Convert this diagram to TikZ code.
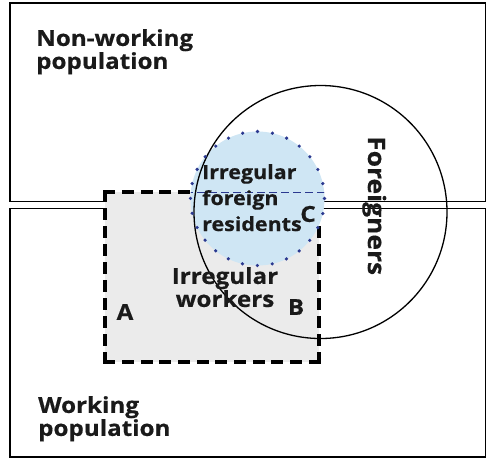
\documentclass[tikz,border=0pt]{standalone}
\usepackage{fontspec}
\setmainfont{Open Sans}[FakeStretch=1.1, BoldFeatures={FakeBold=0.5}]
\definecolor{grayfill}{HTML}{EBEBEB}
\definecolor{bluefill}{HTML}{CFE6F4}
\definecolor{navy}{HTML}{2B3990}
\definecolor{ink}{HTML}{1A1A1A}
\begin{document}
\begin{tikzpicture}[x=1pt,y=1pt,
  boxline/.style={draw=black, line width=1.6pt},
  bigl/.style={inner sep=0pt, font=\bfseries\fontsize{22}{21}\selectfont, text=ink},
  midl/.style={inner sep=0pt, font=\bfseries\fontsize{19.5}{26}\selectfont, text=ink},
  wkl/.style={inner sep=0pt, font=\bfseries\fontsize{22}{23}\selectfont, text=ink},
  forl/.style={inner sep=0pt, font=\bfseries\fontsize{24}{24}\selectfont, text=ink},
  letter/.style={inner sep=0pt, font=\bfseries\fontsize{22}{22}\selectfont, text=ink},
  hdash/.style={draw=black, line width=3.2pt, line cap=rect, dash pattern=on 8.8pt off 9.85pt},
  vdash/.style={draw=black, line width=3.2pt, line cap=rect, dash pattern=on 8.8pt off 9.11pt},
  bluedash/.style={draw=navy, line width=1pt, dash pattern=on 8pt off 4pt},
  dotted border/.style={draw=navy, line width=3.6pt, line cap=round, dash pattern=on 0pt off 15.03pt}
]
\useasboundingbox (0,0) rectangle (487,-459);
% population boxes
\path[boxline] (10,-3) rectangle (485.5,-201.5);
\path[boxline] (10,-208.5) rectangle (485.5,-457);
% irregular workers rectangle
\coordinate (tl) at (105,-192);
\coordinate (tr) at (319,-192);
\coordinate (br) at (319,-362);
\coordinate (bl) at (105,-362);
\fill[grayfill] (tl) rectangle (br);
\path[hdash] (tl) -- (tr);
\path[hdash] (bl) -- (br);
\path[vdash] (tl) -- (bl);
\path[vdash] (br) -- (tr);
% irregular foreign residents disc
\coordinate (rc) at (257.5,-198.5);
\fill[bluefill] (rc) circle[radius=67];
\begin{scope}
  \clip (rc) circle[radius=67];
  \coordinate (dl) at (185,-192);
  \coordinate (dr) at (330,-192);
  \path[bluedash] (dl) -- (dr);
\end{scope}
% foreigners circle
\coordinate (fc) at (320.5,-212);
\draw[line width=1.3pt] (fc) circle[radius=126.5];
\path[dotted border] (rc) circle[radius=67];
% labels
\node[bigl, anchor=north west, align=left] (nw) at (36,-29) {Non-working\\population};
\node[bigl, anchor=north west, align=left] (wp) at (38,-396) {Working\\population};
\node[midl, anchor=north west, align=left] (ifr) at (202,-164) {Irregular\\foreign\\residents};
\node[wkl, anchor=north, align=center] (iw) at (225,-267) {Irregular\\workers};
\node[letter] (a) at (125,-312) {A};
\node[letter] (b) at (296,-307) {B};
\node[letter] (c) at (308,-214) {C};
\node[forl, rotate=-90, anchor=base west] (fo) at (368,-136) {Foreigners};
\end{tikzpicture}
\end{document}
